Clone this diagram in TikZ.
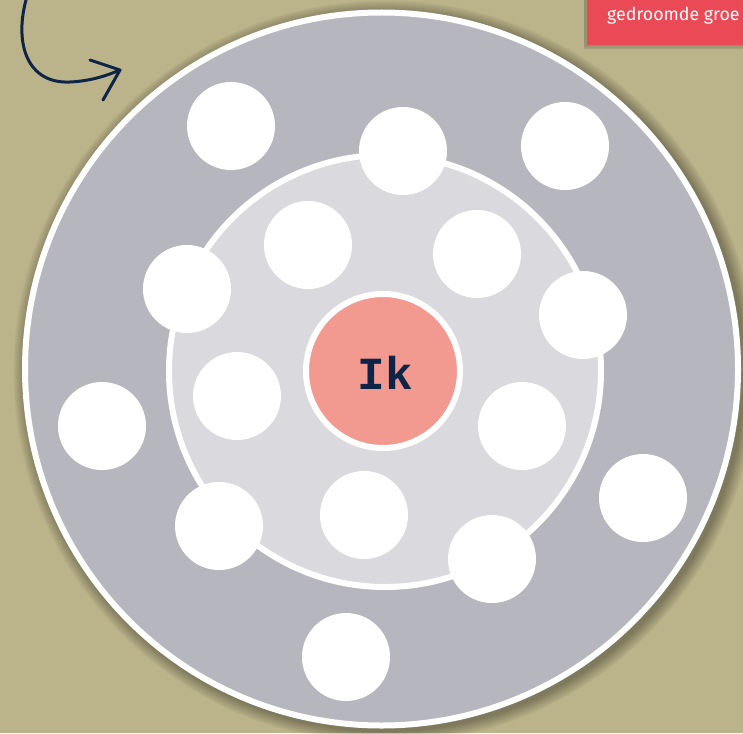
\documentclass[tikz,border=0pt]{standalone}
\usepackage{fontspec}
\newfontfamily\tagfont{Fira Sans}
\newfontfamily\selffont{Liberation Mono}
\definecolor{bgc}{HTML}{BBB38A}
\definecolor{outerc}{HTML}{B6B6BE}
\definecolor{innerc}{HTML}{D9D9DE}
\definecolor{selfc}{HTML}{F29A90}
\definecolor{tagc}{HTML}{E94A55}
\definecolor{inkc}{HTML}{0E2547}
\tikzset{
  ring/.style={circle, inner sep=0pt, draw=white, line width=6pt},
  spot/.style={circle, inner sep=0pt, fill=white, minimum size=88pt},
}
\begin{document}
\begin{tikzpicture}[x=1pt,y=-1pt]
\fill[bgc] (0,0) rectangle (743,733);
\useasboundingbox (0,0) rectangle (743,733);
% soft shadows
\foreach \i in {1,...,14}{
  \fill[black,opacity=0.025] (385,372) circle ({359+\i*0.9});
}
\foreach \i in {1,...,6}{
  \fill[black,opacity=0.03] (584,0) rectangle (743,{45+\i*0.9});
}
% circles
\node[ring, fill=outerc, minimum size=713pt] (outer) at (381.5,369) {};
\node[ring, fill=innerc, minimum size=432pt] (inner) at (385,371) {};
\node[ring, fill=selfc, minimum size=154pt] (self) at (383,371) {};
\node[font=\selffont\bfseries\fontsize{46}{46}\selectfont, text=inkc] (ik) at (385,373) {Ik};
% people spots
\node[spot] (p1) at (231,126) {};
\node[spot] (p2) at (403,151) {};
\node[spot] (p3) at (565,146) {};
\node[spot] (p4) at (308,245) {};
\node[spot] (p5) at (477,254) {};
\node[spot] (p6) at (187,289) {};
\node[spot] (p7) at (583,315) {};
\node[spot] (p8) at (237,396) {};
\node[spot] (p9) at (522,426) {};
\node[spot] (p10) at (102,426) {};
\node[spot] (p11) at (643,498) {};
\node[spot] (p12) at (219,526) {};
\node[spot] (p13) at (364,515) {};
\node[spot] (p14) at (492,559) {};
\node[spot] (p15) at (346,657) {};
% tag
\node[fill=tagc, inner sep=0pt, minimum width=156pt, minimum height=45pt, anchor=north west] (tag) at (587,0) {};
\node[font=\tagfont\fontsize{17.8}{17.8}\selectfont, text=white, anchor=base west, inner sep=0pt] (tagtext) at (607,21) {gedroomde groe};
% arrow
\coordinate (a0) at (26,0);
\coordinate (a1) at (120,70);
\coordinate (h1) at (90,60);
\coordinate (h2) at (103,100);
\draw[inkc, line width=3pt, line cap=round] (a0) .. controls (14,45) and (28,84) .. (70,82) .. controls (92,81) and (108,75) .. (a1);
\draw[inkc, line width=3pt, line cap=round, line join=round] (h1) -- (a1) -- (h2);
\end{tikzpicture}
\end{document}
